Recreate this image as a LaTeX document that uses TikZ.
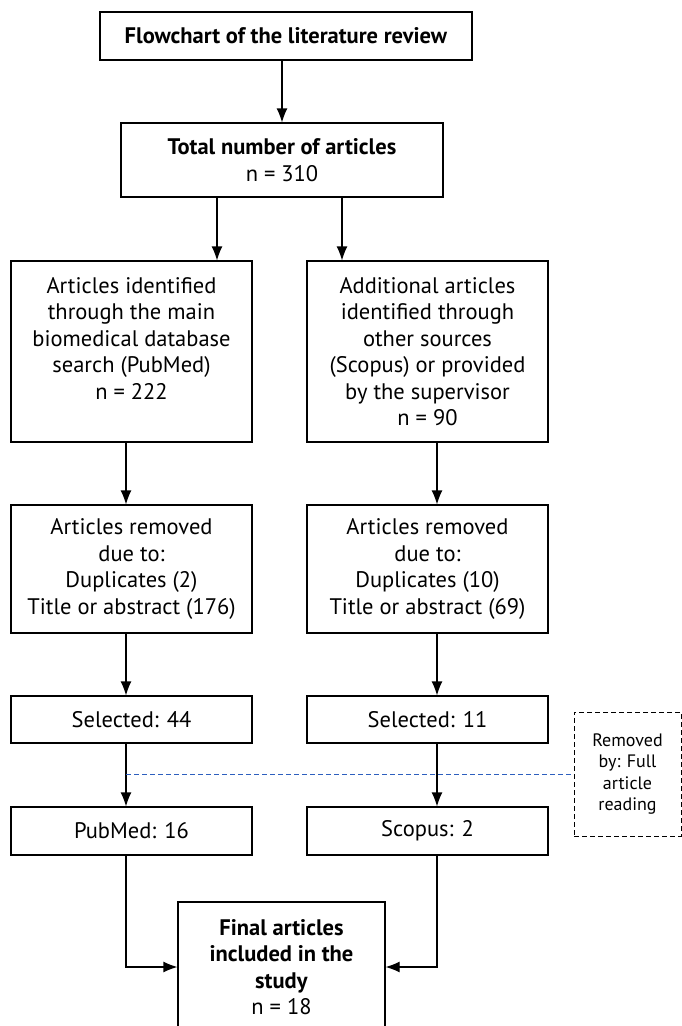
\documentclass[tikz,border=0pt]{standalone}
\usepackage{fontspec}
\setmainfont{PT Sans}
\usetikzlibrary{arrows.meta}
\definecolor{cutblue}{RGB}{45,95,190}
\tikzset{
  box/.style={draw, line width=1.2pt, align=center, inner sep=0pt,
    font=\fontsize{22.5}{26.5}\selectfont},
  colbox/.style={box, minimum width=241pt},
  arr/.style={line width=1.2pt, -{Latex[length=14pt,width=11pt]}},
  cutline/.style={cutblue, line width=1pt, dash pattern=on 5pt off 3pt},
}
\begin{document}
\begin{tikzpicture}
[x=1pt, y=-1pt]
\useasboundingbox (0,0) rectangle (681,1026);
%________________________________________________%
\node[box, minimum width=372pt, minimum height=48pt] (title) at (286,36)
  {\textbf{Flowchart of the literature review}};
\node[box, minimum width=322pt, minimum height=74pt] (total) at (282,160)
  {\textbf{Total number of articles}\\n = 310};
%________________________________________________%
\node[colbox, minimum height=181pt] (pub) at (131.5,351.5)
  {Articles identified\\through the main\\biomedical database\\search (PubMed)\\n = 222\\\mbox{}};
\node[colbox, minimum height=181pt] (sco) at (427.5,351.5)
  {Additional articles\\identified through\\other sources\\(Scopus) or provided\\by the supervisor\\n = 90};
%________________________________________________%
\node[colbox, minimum height=128pt] (pubrm) at (131.5,569)
  {Articles removed\\due to:\\Duplicates (2)\\Title or abstract (176)};
\node[colbox, minimum height=128pt] (scorm) at (427.5,569)
  {Articles removed\\due to:\\Duplicates (10)\\Title or abstract (69)};
%________________________________________________%
\node[colbox, minimum height=47pt] (pubsel) at (131.5,719.5) {Selected: 44};
\node[colbox, minimum height=47pt] (scosel) at (427.5,719.5) {Selected: 11};
\node[colbox, minimum height=48pt] (pubfin) at (131.5,831) {PubMed: 16};
\node[colbox, minimum height=48pt] (scofin) at (427.5,831) {Scopus: 2};
%________________________________________________%
\node[box, line width=1pt, dash pattern=on 5pt off 3pt, minimum width=107pt,
  minimum height=124pt, font=\fontsize{18}{21.5}\selectfont] (removed) at (627.5,774)
  {Removed\\by: Full\\article\\reading};
\node[box, minimum width=207pt, minimum height=130pt] (final) at (281.5,967)
  {\textbf{Final articles}\\\textbf{included in the}\\\textbf{study}\\n = 18};
%________________________________________________%
\draw[arr] ([xshift=-4pt]title.south) -- ([xshift=-4pt]title.south |- total.north);
\draw[arr] ([xshift=-65pt]total.south) -- ([xshift=-65pt]total.south |- pub.north);
\draw[arr] ([xshift=60pt]total.south) -- ([xshift=60pt]total.south |- sco.north);
%________________________________________________%
\draw[arr] ([xshift=-5.5pt]pub.south) -- ([xshift=-5.5pt]pubrm.north);
\draw[arr] ([xshift=9.5pt]sco.south) -- ([xshift=9.5pt]scorm.north);
\draw[arr] ([xshift=-5.5pt]pubrm.south) -- ([xshift=-5.5pt]pubsel.north);
\draw[arr] ([xshift=9.5pt]scorm.south) -- ([xshift=9.5pt]scosel.north);
\draw[arr] ([xshift=-5.5pt]pubsel.south) -- ([xshift=-5.5pt]pubfin.north);
\draw[arr] ([xshift=9.5pt]scosel.south) -- ([xshift=9.5pt]scofin.north);
%________________________________________________%
\coordinate (cut) at (126,774);
\draw[cutline] (cut) -- (removed.west);
%________________________________________________%
\draw[arr] ([xshift=-5.5pt]pubfin.south) |- (final.west);
\draw[arr] ([xshift=9.5pt]scofin.south) |- (final.east);
\end{tikzpicture}
\end{document}
